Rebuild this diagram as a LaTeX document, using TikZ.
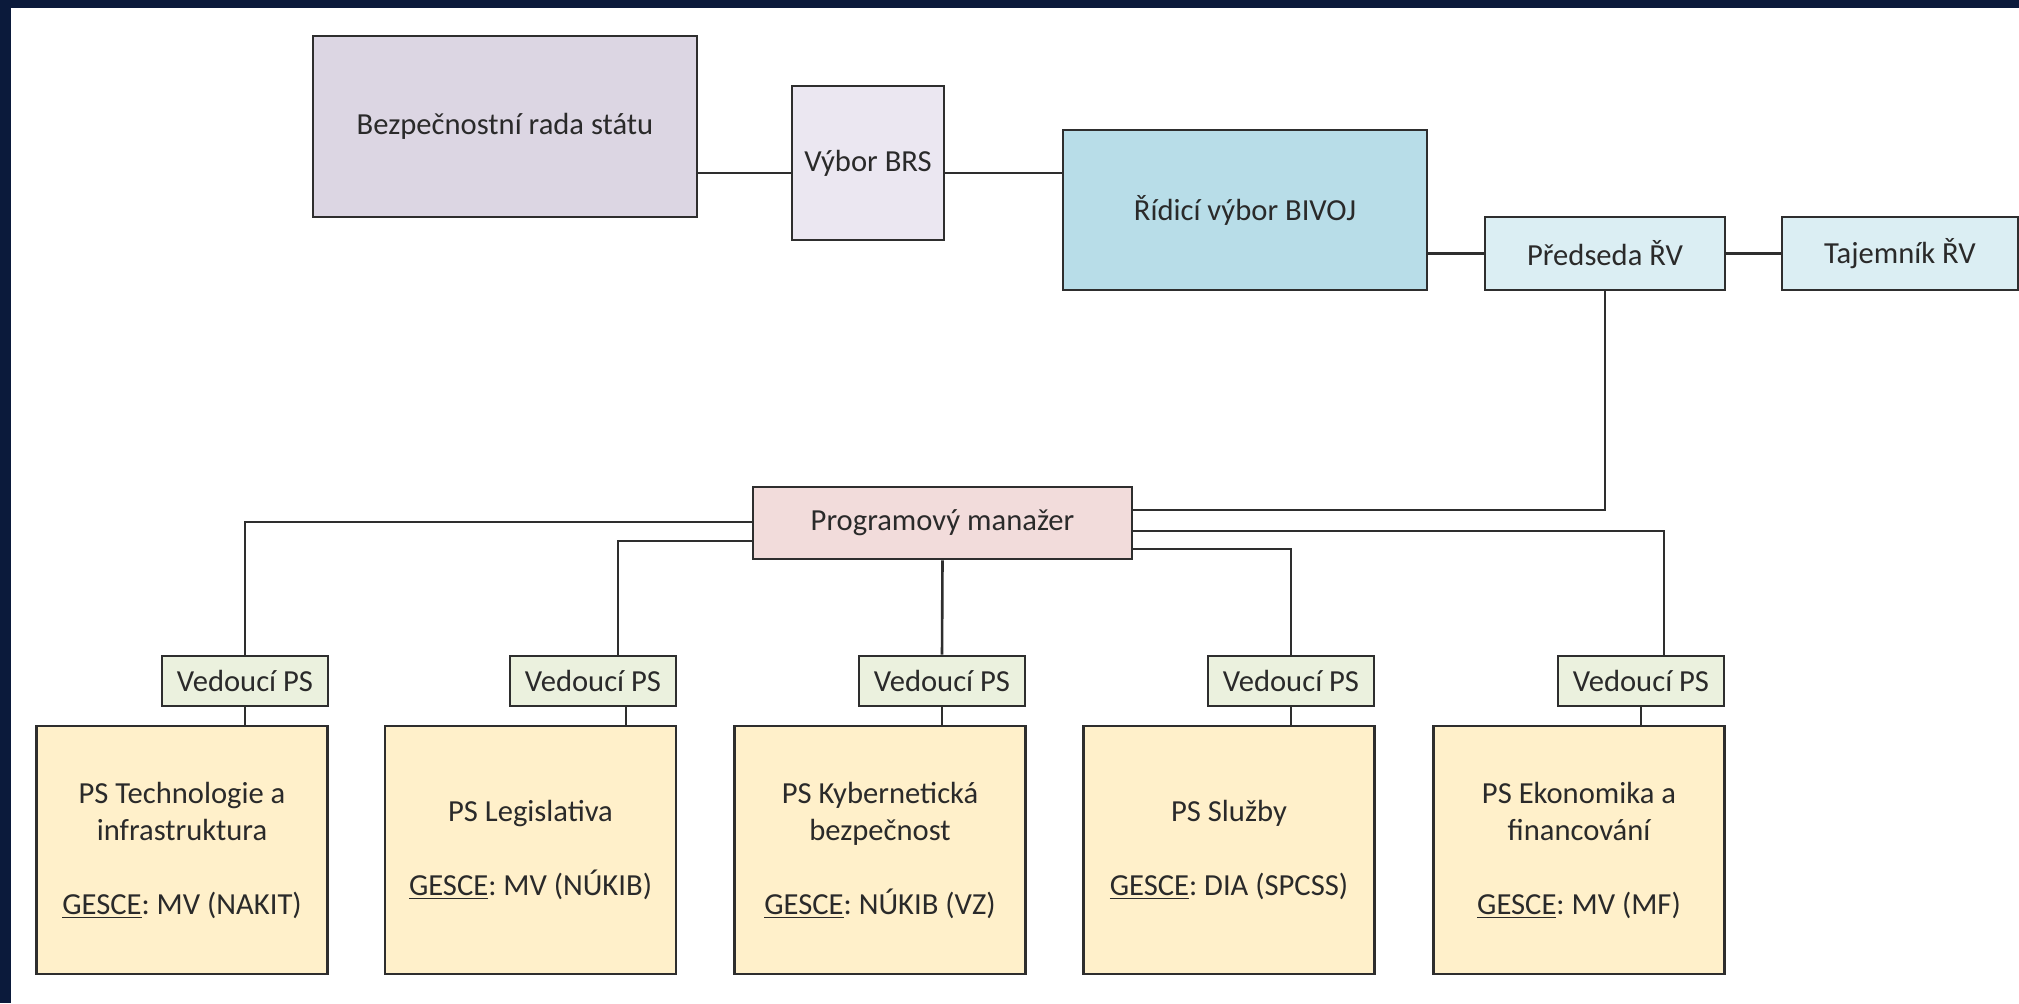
\documentclass[tikz,border=0pt]{standalone}
\usepackage{fontspec}
\setmainfont{Carlito}
\frenchspacing
\definecolor{navy}{HTML}{0B1A3B}
\definecolor{edge}{HTML}{2E2E2E}
\definecolor{txt}{HTML}{2A2A2A}
\definecolor{brsfill}{HTML}{DCD6E3}
\definecolor{vbrsfill}{HTML}{EBE7F1}
\definecolor{ridfill}{HTML}{B8DDE8}
\definecolor{predfill}{HTML}{DBEEF3}
\definecolor{pmfill}{HTML}{F2DCDB}
\definecolor{vedfill}{HTML}{EBF1DE}
\definecolor{psfill}{HTML}{FFF0CA}
\tikzset{
  box/.style={draw=edge, line width=1.3pt, text=txt, inner sep=0pt, align=center,
    font=\fontsize{15.3pt}{18.5pt}\selectfont},
  conn/.style={draw=edge, line width=1.3pt},
  vedbox/.style={box, fill=vedfill, minimum width=83pt, minimum height=25pt},
  psbox/.style={box, fill=psfill, minimum width=145.5pt, minimum height=124pt},
}
\begin{document}
\begin{tikzpicture}[x=0.5pt,y=-0.5pt]
\useasboundingbox (0,0) rectangle (2019,1003);
\fill[navy] (0,0) rectangle (2019,1003);
\fill[white] (11,8) rectangle (2019,1003);
% top row
\node[box, fill=brsfill, minimum width=192pt, minimum height=90.5pt] (brs) at (505,126.5) {Bezpečnostní rada státu};
\node[box, fill=vbrsfill, minimum width=76pt, minimum height=77pt] (vbrs) at (868,163) {Výbor BRS};
\node[box, fill=ridfill, minimum width=182pt, minimum height=80pt] (rid) at (1245,210) {Řídicí výbor BIVOJ};
\node[box, fill=predfill, minimum width=120pt, minimum height=36.5pt] (pred) at (1605,253.5) {Předseda ŘV};
\node[box, fill=predfill, minimum width=118pt, minimum height=36.5pt] (taj) at (1900,253.5) {Tajemník ŘV};
% programme manager
\node[box, fill=pmfill, minimum width=189.5pt, minimum height=36pt] (pm) at (942.5,523) {Programový manažer};
% leaders
\node[vedbox] (v1) at (245,681) {Vedoucí PS};
\node[vedbox] (v2) at (593,681) {Vedoucí PS};
\node[vedbox] (v3) at (942,681) {Vedoucí PS};
\node[vedbox] (v4) at (1291,681) {Vedoucí PS};
\node[vedbox] (v5) at (1641,681) {Vedoucí PS};
% working groups
\node[psbox] (ps1) at (182,850) {PS Technologie a\\infrastruktura\\[18.5pt]\underline{GESCE}: MV (NAKIT)};
\node[psbox] (ps2) at (530.5,850) {PS Legislativa\\[18.5pt]\underline{GESCE}: MV (NÚKIB)};
\node[psbox] (ps3) at (880,850) {PS Kybernetická\\bezpečnost\\[18.5pt]\underline{GESCE}: NÚKIB (VZ)};
\node[psbox] (ps4) at (1229,850) {PS Služby\\[18.5pt]\underline{GESCE}: DIA (SPCSS)};
\node[psbox] (ps5) at (1579,850) {PS Ekonomika a\\financování\\[18.5pt]\underline{GESCE}: MV (MF)};
% levels
\coordinate (ltop) at (0,173);
\coordinate (r1) at (0,510);
\coordinate (r2) at (0,531);
\coordinate (r3) at (0,549);
\coordinate (l1) at (0,522);
\coordinate (l2) at (0,541);
\coordinate (v2top) at ([xshift=12.5pt]v2.north);
\coordinate (v2bot) at ([xshift=16.5pt]v2.south);
\coordinate (v5top) at ([xshift=11.5pt]v5.north);
% connectors top
\draw[conn] (brs.east |- ltop) -- (vbrs.west |- ltop);
\draw[conn] (vbrs.east |- ltop) -- (rid.west |- ltop);
\draw[conn] (rid.east |- pred.west) -- (pred.west);
\draw[conn] (pred.east) -- (taj.west);
\draw[conn] (pred.south) -- (pred.south |- r1) -- (pm.east |- r1);
% connectors from PM
\draw[conn] (pm.east |- r2) -- (v5top |- r2) -- (v5top);
\draw[conn] (pm.east |- r3) -- (v4.north |- r3) -- (v4.north);
\draw[conn] (pm.west |- l1) -- (v1.north |- l1) -- (v1.north);
\draw[conn] (pm.west |- l2) -- (v2top |- l2) -- (v2top);
\draw[conn] (pm.south) -- (v3.north);
% leaders to groups
\draw[conn] (v1.south) -- (ps1.north -| v1.south);
\draw[conn] (v2bot) -- (ps2.north -| v2bot);
\draw[conn] (v3.south) -- (ps3.north -| v3.south);
\draw[conn] (v4.south) -- (ps4.north -| v4.south);
\draw[conn] (v5.south) -- (ps5.north -| v5.south);
\end{tikzpicture}
\end{document}
